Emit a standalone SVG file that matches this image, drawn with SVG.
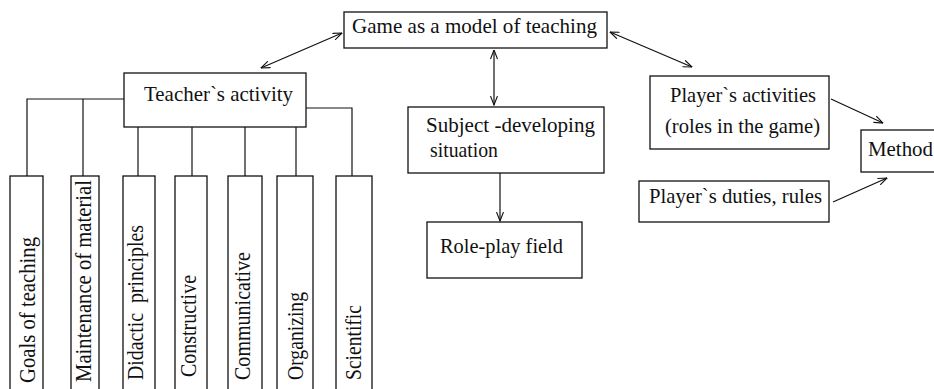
<svg xmlns="http://www.w3.org/2000/svg" width="934" height="389" viewBox="0 0 934 389">
<style>
.box{fill:#fff;stroke:#111;stroke-width:1.3}
.ln{fill:none;stroke:#111;stroke-width:1.2}
.t{font-family:'Liberation Serif','DejaVu Serif','Times New Roman',Times,serif;font-size:21px;fill:#111}
.v{font-size:23px}
</style>
<defs>
<marker id="ah" viewBox="0 0 10 8" refX="9.5" refY="4" markerWidth="10" markerHeight="8" markerUnits="userSpaceOnUse" orient="auto-start-reverse">
<path d="M0.5,0.5 L9.5,4 L0.5,7.5" fill="none" stroke="#111" stroke-width="1.1"/>
</marker>
</defs>
<rect width="934" height="389" fill="#fff"/>
<g id="connectors">
<line class="ln" x1="342" y1="33" x2="261" y2="68" marker-start="url(#ah)" marker-end="url(#ah)"/>
<line class="ln" x1="494" y1="50" x2="494" y2="105" marker-start="url(#ah)" marker-end="url(#ah)"/>
<line class="ln" x1="500" y1="173" x2="500" y2="221" marker-end="url(#ah)"/>
<line class="ln" x1="610" y1="32" x2="692" y2="67" marker-start="url(#ah)" marker-end="url(#ah)"/>
<line class="ln" x1="831" y1="99" x2="883" y2="123" marker-end="url(#ah)"/>
<line class="ln" x1="833" y1="202" x2="887" y2="178" marker-end="url(#ah)"/>
<polyline class="ln" points="124,99 27,99 27,176"/>
<line class="ln" x1="83" y1="99" x2="83" y2="176"/>
<line class="ln" x1="138" y1="127" x2="138" y2="176"/>
<line class="ln" x1="192" y1="127" x2="192" y2="176"/>
<line class="ln" x1="245" y1="127" x2="245" y2="176"/>
<line class="ln" x1="296" y1="127" x2="296" y2="176"/>
<polyline class="ln" points="306,108 352,108 352,176"/>
</g>
<g id="game">
<rect class="box" x="344" y="12" width="263" height="36"/>
<text class="t" font-family="Liberation Serif" x="352" y="33" textLength="245" lengthAdjust="spacingAndGlyphs">Game as a model of teaching</text>
</g>
<g id="teacher">
<rect class="box" x="124" y="73" width="182" height="54"/>
<text class="t" font-family="Liberation Serif" x="144" y="101" textLength="149" lengthAdjust="spacingAndGlyphs">Teacher`s activity</text>
</g>
<g id="subject">
<rect class="box" x="408" y="107" width="196" height="66"/>
<text class="t" font-family="Liberation Serif" x="426" y="132" textLength="169" lengthAdjust="spacingAndGlyphs">Subject -developing</text>
<text class="t" font-family="Liberation Serif" x="430" y="157" textLength="68" lengthAdjust="spacingAndGlyphs">situation</text>
</g>
<g id="roleplay">
<rect class="box" x="427" y="222" width="155" height="56"/>
<text class="t" font-family="Liberation Serif" x="440" y="253" textLength="123" lengthAdjust="spacingAndGlyphs">Role-play field</text>
</g>
<g id="player-activities">
<rect class="box" x="650" y="76" width="179" height="73"/>
<text class="t" font-family="Liberation Serif" x="670" y="102" textLength="146" lengthAdjust="spacingAndGlyphs">Player`s activities</text>
<text class="t" font-family="Liberation Serif" x="665" y="133" textLength="155" lengthAdjust="spacingAndGlyphs">(roles in the game)</text>
</g>
<g id="method">
<rect class="box" x="861" y="130" width="90" height="42"/>
<text class="t" font-family="Liberation Serif" x="868" y="156" textLength="65" lengthAdjust="spacingAndGlyphs">Method</text>
</g>
<g id="player-duties">
<rect class="box" x="639" y="181" width="190" height="41"/>
<text class="t" font-family="Liberation Serif" x="649" y="203" textLength="173" lengthAdjust="spacingAndGlyphs">Player`s duties, rules</text>
</g>
<g id="goals">
<rect class="box" x="10" y="176" width="33" height="220"/>
<text class="t v" font-family="Liberation Serif" transform="translate(35,383) rotate(-90)" textLength="146" lengthAdjust="spacingAndGlyphs">Goals of teaching</text>
</g>
<g id="maintenance">
<rect class="box" x="71" y="176" width="28" height="220"/>
<text class="t v" font-family="Liberation Serif" transform="translate(91,382) rotate(-90)" textLength="202" lengthAdjust="spacingAndGlyphs">Maintenance of material</text>
</g>
<g id="didactic">
<rect class="box" x="123" y="176" width="32" height="220"/>
<text class="t v" font-family="Liberation Serif" transform="translate(143,380) rotate(-90)" textLength="155" lengthAdjust="spacingAndGlyphs" xml:space="preserve">Didactic  principles</text>
</g>
<g id="constructive">
<rect class="box" x="175" y="176" width="32" height="220"/>
<text class="t v" font-family="Liberation Serif" transform="translate(196,377) rotate(-90)" textLength="102" lengthAdjust="spacingAndGlyphs">Constructive</text>
</g>
<g id="communicative">
<rect class="box" x="228" y="176" width="34" height="220"/>
<text class="t v" font-family="Liberation Serif" transform="translate(250,380) rotate(-90)" textLength="128" lengthAdjust="spacingAndGlyphs">Communicative</text>
</g>
<g id="organizing">
<rect class="box" x="277" y="176" width="36" height="220"/>
<text class="t v" font-family="Liberation Serif" transform="translate(303,380) rotate(-90)" textLength="88" lengthAdjust="spacingAndGlyphs">Organizing</text>
</g>
<g id="scientific">
<rect class="box" x="336" y="176" width="36" height="220"/>
<text class="t v" font-family="Liberation Serif" transform="translate(361,380) rotate(-90)" textLength="75" lengthAdjust="spacingAndGlyphs">Scientific</text>
</g>
</svg>
